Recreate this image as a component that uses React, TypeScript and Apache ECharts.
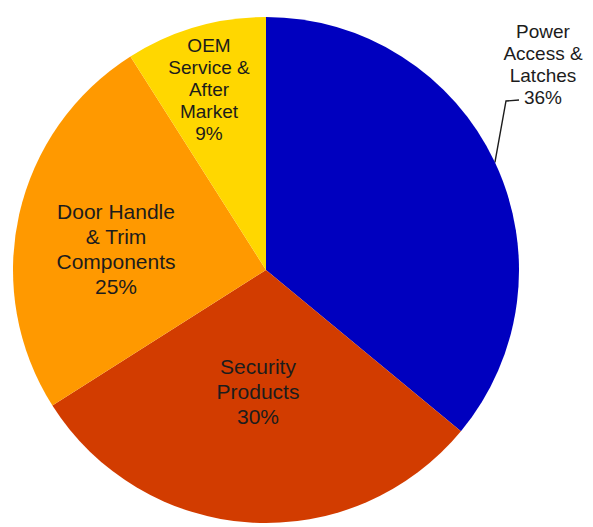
import React, { useEffect, useRef } from "react";
import * as echarts from "echarts";

const categories = [
  "Power\nAccess &\nLatches",
  "Security\nProducts",
  "Door Handle\n& Trim\nComponents",
  "OEM\nService &\nAfter\nMarket",
];
const shares = [36, 30, 25, 9];
const colors = ["#0000BF", "#D23C00", "#FF9900", "#FFD700"];

const CX = 266;
const CY = 270;
const R = 253;

// label anchor offsets from pie centre (layout only)
const labelOffsets: [number, number][] = [
  [277, -206],
  [-8, 121],
  [-150, -21],
  [-57, -181],
];
const labelSizes = [
  { fontSize: 19, lineHeight: 22 },
  { fontSize: 21, lineHeight: 25 },
  { fontSize: 21, lineHeight: 25 },
  { fontSize: 19, lineHeight: 22 },
];

export default function App() {
  const ref = useRef<HTMLDivElement>(null);
  useEffect(() => {
    if (!ref.current) return;
    const chart = echarts.init(ref.current, null, { renderer: "svg" });
    const data = categories.map((name, i) => ({
      name,
      value: shares[i],
      itemStyle: { color: colors[i] },
      label: {
        position: i === 0 ? "outside" : "inside",
        fontSize: labelSizes[i].fontSize,
        lineHeight: labelSizes[i].lineHeight,
      },
      labelLine: i === 0 ? { show: true, lineStyle: { color: "#1c1c1c", width: 1.4 } } : { show: false },
    }));
    chart.setOption({
      animation: false,
      backgroundColor: "#ffffff",
      series: [
        {
          type: "pie",
          center: [CX, CY],
          radius: R,
          startAngle: 90,
          clockwise: true,
          avoidLabelOverlap: false,
          itemStyle: { borderWidth: 0 },
          label: {
            show: true,
            formatter: "{b}\n{c}%",
            color: "#1c1c1c",
            fontFamily: "'Liberation Sans', Arial, sans-serif",
            align: "center",
          },
          labelLayout: (params: any) => {
            const i = params.dataIndex;
            const [ox, oy] = labelOffsets[i];
            const x = CX + ox;
            const y = CY + oy;
            const res: any = { x, y, align: "center", verticalAlign: "middle" };
            if (i === 0 && params.labelLinePoints && params.labelLinePoints.length) {
              const p0 = params.labelLinePoints[0];
              res.labelLinePoints = [
                [p0[0], p0[1]],
                [x - 37, y + 37],
                [x - 24, y + 36],
              ];
            }
            return res;
          },
          data,
        },
      ],
    });
    return () => chart.dispose();
  }, []);
  return (
    <div
      ref={ref}
      style={{ position: "fixed", left: 0, top: 0, width: 593, height: 527, background: "#fff" }}
    />
  );
}
